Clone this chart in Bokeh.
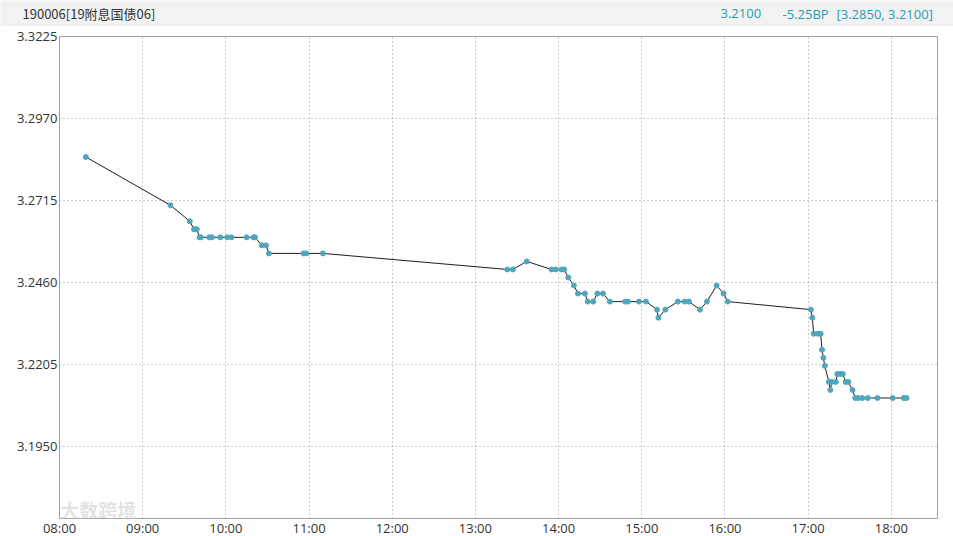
from bokeh.plotting import figure
from bokeh.models import Range1d, FixedTicker, NumeralTickFormatter, ColumnDataSource, Label
from bokeh.layouts import column
from bokeh.core.properties import value
from bokeh.embed import file_html
from bokeh.resources import INLINE

# ---------------- data ----------------
title_text = "190006[19附息国债06]"
last_text = "3.2100"
change_text = "-5.25BP"
range_text = "[3.2850, 3.2100]"
watermark_text = "大数跨境"

times = ["08:19", "09:20", "09:34", "09:37", "09:38", "09:39", "09:41", "09:42",
         "09:48", "09:50", "09:56", "10:01", "10:04", "10:15", "10:20", "10:21",
         "10:26", "10:29", "10:31", "10:56", "10:58", "11:10", "13:23", "13:27",
         "13:37", "13:55", "13:58", "14:02", "14:04", "14:07", "14:11", "14:14",
         "14:19", "14:21", "14:25", "14:28", "14:32", "14:37", "14:48", "14:50",
         "14:58", "15:03", "15:11", "15:12", "15:17", "15:26", "15:31", "15:34",
         "15:42", "15:47", "15:54", "15:59", "16:02", "17:02", "17:03", "17:04",
         "17:07", "17:09", "17:10", "17:11", "17:12", "17:15", "17:16", "17:17",
         "17:20", "17:21", "17:23", "17:25", "17:27", "17:29", "17:32", "17:34",
         "17:36", "17:39", "17:43", "17:50", "18:01", "18:09", "18:11"]
prices = [3.2850, 3.2700, 3.2650, 3.2625, 3.2625, 3.2625, 3.2600, 3.2600,
          3.2600, 3.2600, 3.2600, 3.2600, 3.2600, 3.2600, 3.2600, 3.2600,
          3.2575, 3.2575, 3.2550, 3.2550, 3.2550, 3.2550, 3.2500, 3.2500,
          3.2525, 3.2500, 3.2500, 3.2500, 3.2500, 3.2475, 3.2450, 3.2425,
          3.2425, 3.2400, 3.2400, 3.2425, 3.2425, 3.2400, 3.2400, 3.2400,
          3.2400, 3.2400, 3.2375, 3.2350, 3.2375, 3.2400, 3.2400, 3.2400,
          3.2375, 3.2400, 3.2450, 3.2425, 3.2400, 3.2375, 3.2350, 3.2300,
          3.2300, 3.2300, 3.2250, 3.2225, 3.2200, 3.2150, 3.2125, 3.2150,
          3.2150, 3.2175, 3.2175, 3.2175, 3.2150, 3.2150, 3.2125, 3.2100,
          3.2100, 3.2100, 3.2100, 3.2100, 3.2100, 3.2100, 3.2100]

x_tick_hours = [8, 9, 10, 11, 12, 13, 14, 15, 16, 17, 18]
x_tick_labels = ["08:00", "09:00", "10:00", "11:00", "12:00", "13:00",
                 "14:00", "15:00", "16:00", "17:00", "18:00"]
y_ticks = [3.3225, 3.2970, 3.2715, 3.2460, 3.2205, 3.1950]

hours = [int(t[:2]) + int(t[3:]) / 60.0 for t in times]
src = ColumnDataSource(dict(x=hours, y=prices))

FONT = "Open Sans"
CJK = "Noto Sans CJK SC"
TEAL = "#1d9db6"

# ---------------- header strip ----------------
h = figure(width=953, height=26, x_range=Range1d(0, 953), y_range=Range1d(26, 0),
           x_axis_type=None, y_axis_type=None, output_backend="svg",
           toolbar_location=None,
           min_border_left=0, min_border_right=0, min_border_top=0, min_border_bottom=0,
           background_fill_color="#f2f2f2", border_fill_color="#f2f2f2")
h.frame_align = False
h.outline_line_color = None
h.grid.visible = False
h.text(x=[22], y=[13], text=[title_text], text_baseline="middle", text_align="left",
       text_font=value(CJK), text_font_size="13px", text_color="#333333")
h.text(x=[720, 782, 836], y=[13, 13, 13], text=[last_text, change_text, range_text],
       text_baseline="middle", text_align="left",
       text_font=value(FONT), text_font_size="13px", text_color=TEAL)

# ---------------- main chart ----------------
p = figure(frame_width=878, frame_height=482,
           x_range=Range1d(8, 18.555), y_range=Range1d(3.1725, 3.3225),
           output_backend="svg", toolbar_location=None,
           min_border_left=59, min_border_right=16, min_border_top=10, min_border_bottom=0,
           background_fill_color="white", border_fill_color="white")
p.frame_align = False
p.outline_line_color = "#a0a0a0"
p.outline_line_width = 1

p.xaxis.ticker = FixedTicker(ticks=x_tick_hours)
p.xaxis.major_label_overrides = {hh: lab for hh, lab in zip(x_tick_hours, x_tick_labels)}
p.yaxis.ticker = FixedTicker(ticks=y_ticks)
p.yaxis.formatter = NumeralTickFormatter(format="0.0000")

for ax in (p.xaxis, p.yaxis):
    ax.axis_line_color = None
    ax.major_tick_line_color = None
    ax.minor_tick_line_color = None
    ax.major_tick_out = 0
    ax.major_tick_in = 0
    ax.minor_tick_out = 0
    ax.minor_tick_in = 0
    ax.major_label_text_font = FONT
    ax.major_label_text_font_size = "13px"
    ax.major_label_text_color = "#333333"
p.xaxis.major_label_standoff = 0
p.yaxis.major_label_standoff = 2

p.xgrid.ticker = FixedTicker(ticks=x_tick_hours)
p.ygrid.ticker = FixedTicker(ticks=y_ticks)
for g in (p.xgrid, p.ygrid):
    g.grid_line_color = "#9a9a9a"
    g.grid_line_dash = "1 3"
    g.grid_line_width = 1

p.line("x", "y", source=src, line_color="#1e1e1e", line_width=1)
p.scatter("x", "y", source=src, size=5, marker="circle",
          fill_color="#4fa7bd", line_color="#4fa7bd")

wm = Label(x=8.01, y=3.1752, text=watermark_text, text_font=CJK,
           text_font_size="19px", text_font_style="bold", text_color="#dcdcdc",
           text_alpha=0.8, text_baseline="middle", text_align="left")
p.add_layout(wm)

layout = column(h, p, spacing=0)

open("out.html", "w").write(file_html(layout, INLINE))
